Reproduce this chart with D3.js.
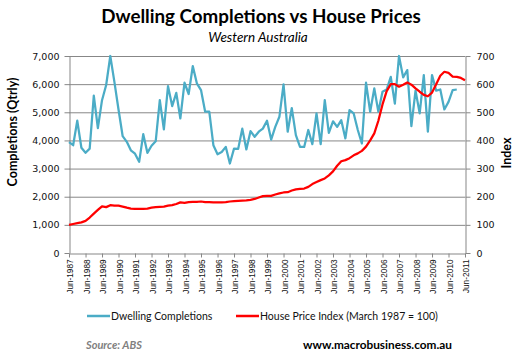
<!DOCTYPE html>
<html>
<head>
<meta charset="utf-8">
<title>Dwelling Completions vs House Prices</title>
<script src="https://d3js.org/d3.v7.min.js"></script>
<style>
  body { margin: 0; background: #fff; }
</style>
</head>
<body>
<script>
// quarterly series, first quarter = Jun-1987
const startQuarter = new Date(1987, 5, 1);

const completions = [
  3940, 3830, 4700, 3740, 3560, 3710, 5590, 4440, 5430, 5970,
  7000, 6090, 5100, 4150, 3950, 3650, 3530, 3240, 4220, 3560,
  3810, 3970, 5430, 4390, 5930, 5220, 5690, 4780, 6050, 5650,
  6640, 6030, 5790, 5020, 5020, 3830, 3510, 3590, 3770, 3180,
  3710, 3700, 4420, 3680, 4330, 4130, 4310, 4420, 4700, 4030,
  4480, 4840, 5990, 4310, 5150, 4190, 3770, 3770, 4370, 3870,
  4960, 3870, 5430, 4270, 4680, 4480, 4720, 4070, 5080, 4960,
  4370, 3890, 6050, 5020, 5850, 5020, 5730, 5810, 6260, 5310,
  7000, 6240, 6500, 4510, 5770, 4960, 6320, 4310, 6320, 5770,
  5810, 5100, 5370, 5790, 5810
];

const priceIndex = [
  100, 103, 106, 109, 114, 126, 140, 153, 166, 163,
  170, 168, 168, 165, 161, 158, 157, 157, 157, 158,
  161, 163, 164, 165, 168, 170, 174, 180, 178, 181,
  182, 182, 183, 181, 181, 180, 180, 180, 181, 183,
  184, 185, 186, 187, 189, 192, 197, 202, 203, 203,
  208, 212, 215, 216, 222, 226, 228, 229, 235, 245,
  252, 259, 265, 276, 290, 310, 326, 330, 337, 347,
  354, 363, 378, 400, 425, 470, 528, 575, 600, 600,
  591, 598, 606, 598, 585, 573, 562, 557, 570, 600,
  630, 644, 640, 627, 626, 622, 614
];

const yearTicks = d3.range(1987, 2012);
const leftTicks = d3.range(0, 7001, 1000);
const rightTicks = d3.range(0, 701, 100);

const quarterDate = i => d3.timeMonth.offset(startQuarter, i * 3);

const width = 519, height = 361;
const plot = { left: 69, right: 465, top: 56, bottom: 253 };

const svg = d3.select("body").append("svg")
  .attr("width", width)
  .attr("height", height)
  .style("font-family", "DejaVu Sans, sans-serif");

const x = d3.scaleTime()
  .domain([startQuarter, new Date(2011, 5, 1)])
  .range([plot.left, plot.right]);

const yL = d3.scaleLinear().domain([0, 7000]).range([plot.bottom, plot.top]);
const yR = d3.scaleLinear().domain([0, 700]).range([plot.bottom, plot.top]);

const gridColor = "#878787";

// gridlines
svg.append("g")
  .selectAll("line")
  .data(leftTicks.slice(1))
  .join("line")
  .attr("x1", plot.left)
  .attr("x2", plot.right)
  .attr("y1", d => yL(d) + 0.5)
  .attr("y2", d => yL(d) + 0.5)
  .attr("stroke", gridColor)
  .attr("stroke-width", 1);

// axes
function styleAxis(g) {
  g.select(".domain").attr("stroke", gridColor).attr("stroke-width", 1);
  g.selectAll(".tick line").attr("stroke", gridColor);
  g.selectAll(".tick text").attr("fill", "#111");
}

svg.append("g")
  .attr("transform", `translate(${plot.left + 0.5},0)`)
  .call(d3.axisLeft(yL).tickValues(leftTicks).tickSize(5).tickSizeOuter(0)
    .tickPadding(5).tickFormat(d3.format(",")))
  .call(styleAxis)
  .call(g => g.selectAll(".tick text").attr("font-size", 9.5).attr("font-family", "DejaVu Sans"));

svg.append("g")
  .attr("transform", `translate(${plot.right + 0.5},0)`)
  .call(d3.axisRight(yR).tickValues(rightTicks).tickSize(5).tickSizeOuter(0)
    .tickPadding(6))
  .call(styleAxis)
  .call(g => g.selectAll(".tick text").attr("font-size", 9.5).attr("font-family", "DejaVu Sans"));

const fmtX = d3.timeFormat("%b-%Y");
svg.append("g")
  .attr("transform", `translate(0,${plot.bottom + 0.5})`)
  .call(d3.axisBottom(x)
    .tickValues(yearTicks.map(yr => new Date(yr, 5, 1)))
    .tickSize(4).tickSizeOuter(0).tickFormat(fmtX))
  .call(styleAxis)
  .call(g => g.selectAll(".tick text")
    .attr("font-size", 8.2)
    .attr("text-anchor", "end")
    .attr("transform", "rotate(-90)")
    .attr("x", -6)
    .attr("y", 1)
    .attr("dy", "0.35em"));

// lines
const lineL = d3.line()
  .x((d, i) => x(quarterDate(i)))
  .y(d => yL(d));
const lineR = d3.line()
  .x((d, i) => x(quarterDate(i)))
  .y(d => yR(d));

svg.append("path")
  .datum(completions)
  .attr("d", lineL)
  .attr("fill", "none")
  .attr("stroke", "#4BACC6")
  .attr("stroke-width", 2.25)
  .attr("stroke-linejoin", "round");

svg.append("path")
  .datum(priceIndex)
  .attr("d", lineR)
  .attr("fill", "none")
  .attr("stroke", "#FF0000")
  .attr("stroke-width", 2.25)
  .attr("stroke-linejoin", "round");

// titles
svg.append("text")
  .attr("x", 261).attr("y", 23)
  .attr("text-anchor", "middle")
  .style("font-family", "Lato, sans-serif")
  .attr("font-weight", "bold")
  .attr("font-size", 18.8)
  .attr("fill", "#000")
  .text("Dwelling Completions vs House Prices");

svg.append("text")
  .attr("x", 258).attr("y", 42)
  .attr("text-anchor", "middle")
  .style("font-family", "Lato, sans-serif")
  .attr("font-style", "italic")
  .attr("font-size", 13.5)
  .attr("fill", "#000")
  .text("Western Australia");

svg.append("text")
  .attr("transform", "translate(17,132) rotate(-90)")
  .attr("text-anchor", "middle")
  .style("font-family", "Lato, sans-serif")
  .attr("font-weight", "bold")
  .attr("font-size", 12.5)
  .text("Completions (Qtrly)");

svg.append("text")
  .attr("transform", "translate(511,153) rotate(-90)")
  .attr("text-anchor", "middle")
  .style("font-family", "Lato, sans-serif")
  .attr("font-weight", "bold")
  .attr("font-size", 12.5)
  .text("Index");

// legend
const legend = [
  { label: "Dwelling Completions", color: "#4BACC6", x: 87 },
  { label: "House Price Index (March 1987 = 100)", color: "#FF0000", x: 236 }
];
const lg = svg.append("g").selectAll("g").data(legend).join("g")
  .attr("transform", d => `translate(${d.x},316)`);
lg.append("line")
  .attr("x1", 0).attr("x2", 23)
  .attr("stroke", d => d.color)
  .attr("stroke-width", 2.5);
lg.append("text")
  .attr("x", 24).attr("dy", "0.35em")
  .style("font-family", "Lato, sans-serif")
  .attr("font-size", 10.5)
  .attr("fill", "#111")
  .text(d => d.label);

svg.append("text")
  .attr("x", 86).attr("y", 349)
  .style("font-family", "Lato, sans-serif")
  .attr("font-style", "italic")
  .attr("font-weight", "bold")
  .attr("font-size", 11)
  .attr("fill", "#808080")
  .text("Source:  ABS");

svg.append("text")
  .attr("x", 303).attr("y", 349)
  .style("font-family", "Lato, sans-serif")
  .attr("font-weight", "bold")
  .attr("font-size", 11.8)
  .attr("fill", "#000")
  .text("www.macrobusiness.com.au");
</script>
</body>
</html>
